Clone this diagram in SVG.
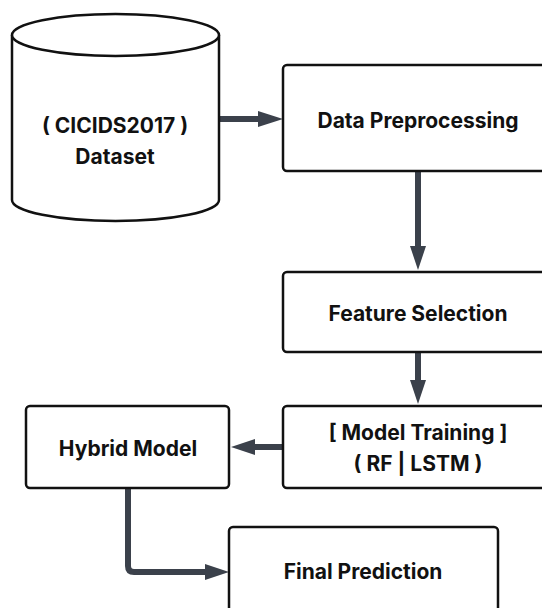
<svg xmlns="http://www.w3.org/2000/svg" width="542" height="608" viewBox="0 0 542 608">
<style>
.box{fill:#fff;stroke:#111;stroke-width:2.5}
.lbl{font-family:Inter,"Liberation Sans",sans-serif;font-weight:700;font-size:21px;fill:#111;text-anchor:middle;dominant-baseline:central}
.con{fill:none;stroke:#3b414b;stroke-width:6}
.head{fill:#3b414b}
</style>
<rect width="542" height="608" fill="#fff"/>
<g id="connectors">
<path class="con" d="M219,119 H260"/>
<polygon class="head" points="258,111 283,119 258,127"/>
<path class="con" d="M418,171 V248"/>
<polygon class="head" points="410,246 418,270 426,246"/>
<path class="con" d="M418,352 V382"/>
<polygon class="head" points="410,380 418,404 426,380"/>
<path class="con" d="M283,447 H253"/>
<polygon class="head" points="255,439 231,447 255,455"/>
<path class="con" d="M128,488 V566 Q128,572 134,572 H207"/>
<polygon class="head" points="205,564 229,572 205,580"/>
</g>
<g id="dataset">
<path class="box" d="M12,35 V200 A103.5,21 0 0 0 219,200 V35"/>
<ellipse class="box" cx="115.5" cy="35" rx="103.5" ry="21"/>
<text class="lbl" x="115" y="125">( CICIDS2017 )</text>
<text class="lbl" x="115" y="156">Dataset</text>
</g>
<g id="preprocessing">
<rect class="box" x="283" y="65" width="272" height="106" rx="4"/>
<text class="lbl" x="418" y="120">Data Preprocessing</text>
</g>
<g id="feature">
<rect class="box" x="283" y="272" width="272" height="80" rx="4"/>
<text class="lbl" x="418" y="313">Feature Selection</text>
</g>
<g id="training">
<rect class="box" x="283" y="406" width="272" height="82" rx="4"/>
<text class="lbl" x="418" y="432">[ Model Training ]</text>
<text class="lbl" x="418" y="463">( RF | LSTM )</text>
</g>
<g id="hybrid">
<rect class="box" x="26" y="406" width="203" height="82" rx="4"/>
<text class="lbl" x="128" y="448">Hybrid Model</text>
</g>
<g id="final">
<rect class="box" x="229" y="527" width="269" height="110" rx="4"/>
<text class="lbl" x="363" y="571">Final Prediction</text>
</g>
</svg>
